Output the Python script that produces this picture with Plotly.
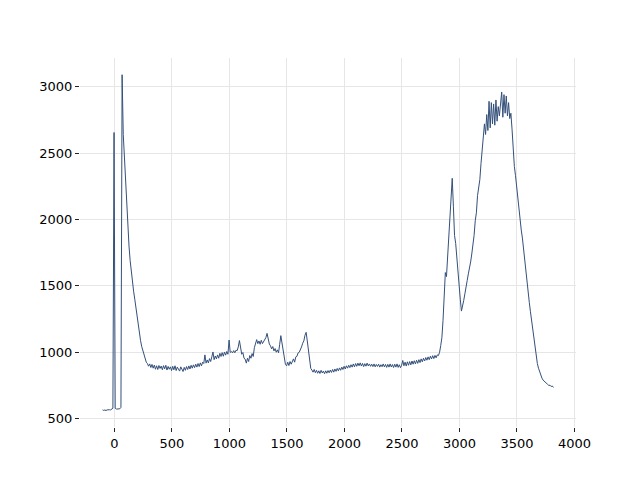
import plotly.graph_objects as go

x_start = -103
x_step = 10

intensity = [
    566, 562, 565, 561, 566, 564, 567, 566, 570, 578,
    2655, 578, 572, 571, 572, 574, 585, 3090, 2640, 2470,
    2250, 2080, 1890, 1800, 1690, 1600, 1540, 1460, 1400, 1330,
    1270, 1200, 1140, 1090, 1045, 1010, 975, 945, 925, 915,
    895, 912, 885, 908, 880, 903, 872, 898, 870, 900,
    878, 896, 868, 899, 875, 902, 866, 893, 872, 890,
    862, 894, 868, 898, 862, 888, 872, 858, 890, 866,
    855, 886, 864, 892, 870, 897, 874, 902, 880, 905,
    884, 910, 888, 915, 892, 920, 897, 925, 915, 980,
    918, 942, 920, 952, 930, 965, 1002, 944, 972, 950,
    980, 955, 992, 968, 997, 970, 1002, 978, 1006, 985,
    1092, 998, 1006, 995, 1012, 996, 1015, 1012, 1040, 1088,
    1020, 985, 998, 955, 948, 918, 955, 930, 975, 955,
    990, 968, 1035, 1060, 1095, 1065, 1085, 1060, 1090, 1065,
    1082, 1088, 1110, 1142, 1098, 1062, 1048, 1025, 1043, 1010,
    1028, 1000, 1018, 996, 1060, 1125, 1070, 1010, 955, 908,
    898, 925, 900, 930, 910, 940, 950, 925, 965, 970,
    995, 1000, 1030, 1040, 1068, 1085, 1128, 1150, 1085, 1005,
    925, 878, 866, 850, 870, 846, 864, 842, 860, 840,
    864, 844, 858, 838, 860, 842, 862, 845, 866, 848,
    870, 850, 874, 856, 878, 860, 882, 864, 888, 870,
    894, 874, 898, 880, 902, 884, 906, 888, 912, 890,
    915, 894, 918, 898, 920, 896, 916, 892, 914, 895,
    918, 897, 912, 894, 910, 892, 912, 890, 908, 893,
    910, 888, 906, 891, 912, 890, 908, 886, 909, 888,
    912, 889, 907, 885, 910, 888, 912, 886, 906, 884,
    902, 938, 898, 925, 896, 928, 902, 930, 905, 934,
    910, 936, 912, 940, 916, 944, 922, 950, 928, 955,
    934, 960, 940, 965, 944, 970, 950, 974, 952, 976,
    958, 980, 975, 1000, 1050, 1110, 1240, 1480, 1600, 1570,
    1720, 1890, 2060, 2190, 2310, 2100, 1880, 1820, 1700, 1600,
    1490, 1400, 1310, 1340, 1390, 1440, 1510, 1540, 1590, 1630,
    1680, 1740, 1800, 1880, 1990, 2050, 2180, 2250, 2300, 2420,
    2530, 2620, 2720, 2640, 2790, 2670, 2890, 2690, 2880, 2720,
    2870, 2710, 2900, 2740, 2850, 2780, 2860, 2960, 2770, 2940,
    2800, 2930, 2780, 2880, 2760, 2800, 2680, 2480, 2400, 2330,
    2240, 2150, 2050, 1980, 1920, 1860, 1770, 1690, 1600, 1520,
    1445, 1375, 1305, 1235, 1170, 1090, 1030, 965, 915, 880,
    850, 825, 805, 790, 780, 772, 762, 758, 750, 752,
    742, 746, 735,
]

wavenumber = [x_start + x_step * i for i in range(len(intensity))]

x_ticks = [0, 500, 1000, 1500, 2000, 2500, 3000, 3500, 4000]
y_ticks = [500, 1000, 1500, 2000, 2500, 3000]

fig = go.Figure()
fig.add_trace(go.Scatter(
    x=wavenumber, y=intensity, mode="lines",
    line=dict(color="#34507a", width=1),
    showlegend=False,
))

axis_common = dict(
    showline=False, zeroline=False, showgrid=True,
    gridcolor="#e6e6e6", gridwidth=1,
    ticks="outside", ticklen=4, tickwidth=1, tickcolor="#222222",
    tickfont=dict(family="DejaVu Sans", size=13, color="#000000"),
)

fig.update_layout(
    width=640, height=480,
    paper_bgcolor="white", plot_bgcolor="white",
    margin=dict(l=72, r=72, t=50, b=61),
    xaxis=dict(range=[-299, 4013], tickvals=x_ticks,
               ticktext=[str(v) for v in x_ticks], **axis_common),
    yaxis=dict(range=[437, 3216], tickvals=y_ticks,
               ticktext=[str(v) for v in y_ticks], **axis_common),
)

fig.write_html("out.html")
